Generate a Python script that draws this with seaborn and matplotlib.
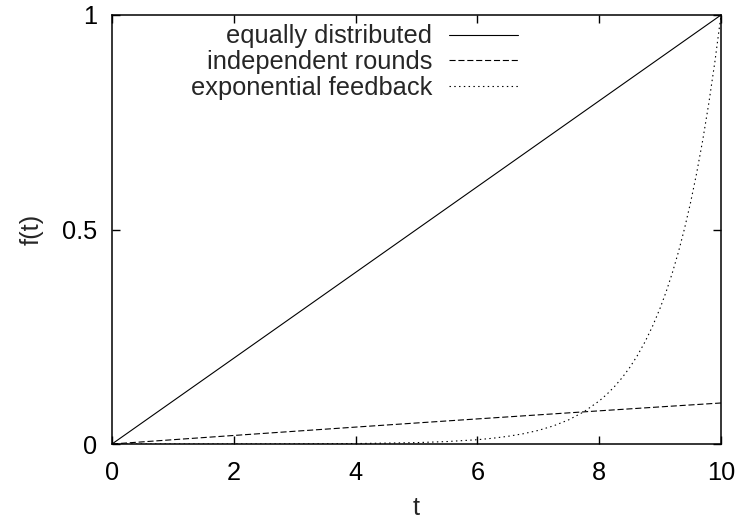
import matplotlib
matplotlib.use("Agg")
import matplotlib.pyplot as plt
import seaborn as sns
import pandas as pd

# Time axis samples and the three fraction curves f(t)
t_equal = [0, 10]
f_equal = [0.0, 1.0]

t_indep = [0, 1, 2, 3, 4, 5, 6, 7, 8, 9, 10]
f_indep = [0.0, 0.0100, 0.0199, 0.0297, 0.0394, 0.0490, 0.0585, 0.0679, 0.0773, 0.0865, 0.0956]

t_expo = [0, 1, 2, 3, 4, 5, 5.5, 6, 6.25, 6.5, 6.75, 7, 7.25, 7.5, 7.75,
          8, 8.125, 8.25, 8.375, 8.5, 8.625, 8.75, 8.875, 9, 9.1, 9.2, 9.3,
          9.4, 9.5, 9.6, 9.7, 9.8, 9.9, 10]
f_expo = [0.0, 0.0000, 0.0001, 0.0003, 0.0010, 0.0032, 0.0057, 0.0100, 0.0134,
          0.0179, 0.0238, 0.0317, 0.0423, 0.0564, 0.0752,
          0.1003, 0.1158, 0.1337, 0.1543, 0.1780, 0.2057, 0.2375, 0.2742,
          0.3166, 0.3552, 0.3985, 0.4471, 0.5016, 0.5627, 0.6313, 0.7082,
          0.7945, 0.8914, 1.0]

labels = ["equally distributed", "independent rounds", "exponential feedback"]
x_ticks = [0, 2, 4, 6, 8, 10]
y_ticks = [0, 0.5, 1]
y_ticklabels = ["0", "0.5", "1"]

sns.set_theme(style="ticks")
plt.rcParams["font.family"] = ["Liberation Sans", "DejaVu Sans"]
FS = 18.3

fig = plt.figure(figsize=(7.36, 5.23), dpi=100)
ax = fig.add_axes([112 / 736, 1 - 444 / 523, (721 - 112) / 736, (444 - 15) / 523])

df = pd.concat([
    pd.DataFrame({"t": t_equal, "f": f_equal, "series": labels[0]}),
    pd.DataFrame({"t": t_indep, "f": f_indep, "series": labels[1]}),
    pd.DataFrame({"t": t_expo, "f": f_expo, "series": labels[2]}),
], ignore_index=True)

sns.lineplot(data=df, x="t", y="f", hue="series", style="series",
             palette=["black"] * 3,
             dashes=["", (5.5, 2.5), (1.3, 3.0)],
             linewidth=0.8, ax=ax, legend=True)

ax.set_xlim(0, 10)
ax.set_ylim(0, 1)
ax.set_xticks(x_ticks)
ax.set_xticklabels([str(v) for v in x_ticks])
ax.set_yticks(y_ticks)
ax.set_yticklabels(y_ticklabels)
ax.tick_params(direction="in", length=6, width=1, top=True, right=True,
               labelsize=FS, colors="black")
ax.tick_params(axis="x", pad=12)
ax.tick_params(axis="y", pad=10.5)
for s in ax.spines.values():
    s.set_visible(True)
    s.set_linewidth(1.1)
    s.set_color("black")

ax.set_xlabel("t", fontsize=FS, labelpad=8)
ax.set_ylabel("f(t)", fontsize=FS, labelpad=13)

handles, lbls = ax.get_legend_handles_labels()
ax.legend(handles, lbls, loc="upper right", bbox_to_anchor=((518 - 112) / 609, 0.978),
          frameon=False, markerfirst=False, fontsize=FS, handlelength=2.7,
          handletextpad=0.68, labelspacing=0.07, borderpad=0, borderaxespad=0)

fig.savefig("out.png", dpi=100)
